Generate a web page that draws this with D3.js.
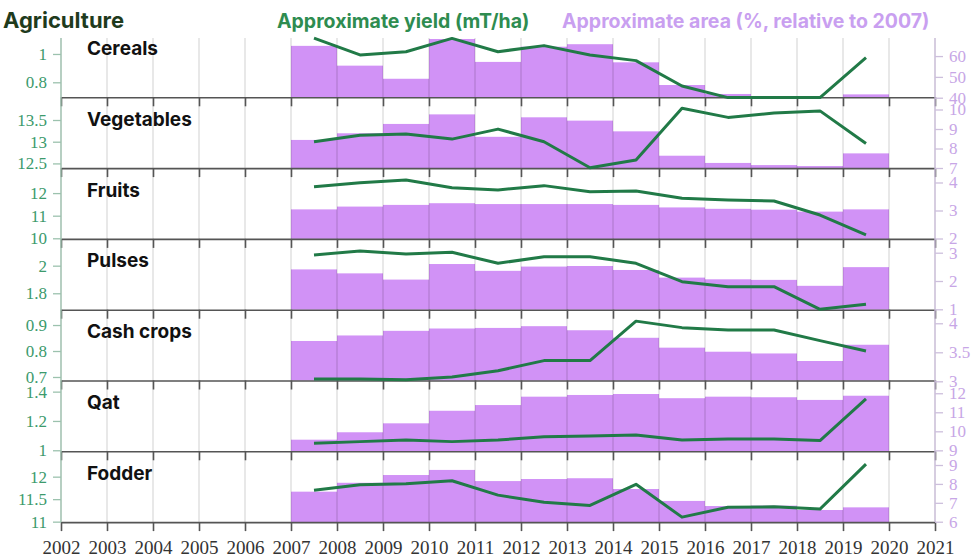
<!DOCTYPE html>
<html>
<head>
<meta charset="utf-8">
<script src="https://cdn.jsdelivr.net/npm/d3@7"></script>
<style>
  body { margin: 0; background: #fff; }
  svg { display: block; }
  .num { font-family: "Liberation Serif", "DejaVu Serif", serif; font-variant-numeric: oldstyle-nums; }
  .sans { font-family: Inter, "Noto Sans", sans-serif; font-weight: 700; }
</style>
</head>
<body>
<svg id="chart" width="974" height="557"></svg>
<script>
// Crop rows, top to bottom
const categories = ["Cereals", "Vegetables", "Fruits", "Pulses", "Cash crops", "Qat", "Fodder"];
const years = [2007, 2008, 2009, 2010, 2011, 2012, 2013, 2014, 2015, 2016, 2017, 2018, 2019];
const axisYears = d3.range(2002, 2022);

// Approximate yield (mT/ha), plotted mid-year
const cerealsYield    = [1.112, 0.993, 1.016, 1.110, 1.016, 1.059, 0.993, 0.953, 0.774, 0.692, 0.692, 0.692, 0.974];
const vegetablesYield = [13.00, 13.15, 13.18, 13.06, 13.29, 13.00, 12.40, 12.58, 13.77, 13.56, 13.66, 13.71, 12.96];
const fruitsYield     = [12.28, 12.46, 12.58, 12.24, 12.14, 12.33, 12.06, 12.09, 11.77, 11.69, 11.65, 11.03, 10.15];
const pulsesYield     = [2.078, 2.107, 2.085, 2.097, 2.017, 2.065, 2.065, 2.017, 1.884, 1.848, 1.848, 1.684, 1.720];
const cashYield       = [0.692, 0.692, 0.689, 0.700, 0.724, 0.763, 0.763, 0.915, 0.890, 0.881, 0.881, 0.840, 0.800];
const qatYield        = [1.048, 1.059, 1.070, 1.059, 1.070, 1.093, 1.098, 1.104, 1.070, 1.077, 1.077, 1.066, 1.350];
const fodderYield     = [11.70, 11.82, 11.84, 11.91, 11.59, 11.43, 11.36, 11.83, 11.10, 11.32, 11.33, 11.28, 12.28];

// Approximate area (%, relative to 2007), one bar per year
const cerealsArea    = [64.9, 55.4, 49.1, 68.2, 57.2, 64.5, 65.7, 57.0, 46.1, 41.8, 40.4, 40.2, 41.6];
const vegetablesArea = [8.44, 8.78, 9.26, 9.75, 8.60, 9.60, 9.43, 8.88, 7.63, 7.26, 7.15, 7.10, 7.75];
const fruitsArea     = [3.04, 3.14, 3.20, 3.26, 3.23, 3.23, 3.23, 3.20, 3.11, 3.06, 3.03, 2.96, 3.04];
const pulsesArea     = [2.41, 2.27, 2.05, 2.60, 2.36, 2.51, 2.53, 2.39, 2.12, 2.06, 2.04, 1.83, 2.49];
const cashArea       = [3.695, 3.79, 3.87, 3.91, 3.92, 3.95, 3.88, 3.75, 3.58, 3.51, 3.48, 3.35, 3.63];
const qatArea        = [9.56, 9.95, 10.42, 11.08, 11.38, 11.82, 11.91, 11.96, 11.74, 11.82, 11.79, 11.65, 11.87];
const fodderArea     = [7.59, 8.06, 8.47, 8.74, 8.15, 8.26, 8.30, 7.73, 7.10, 6.83, 6.85, 6.62, 6.76];

// Axis domains and ticks per row
const yieldDomains = [[0.694, 1.194], [12.392, 14.023], [9.973, 13.106], [1.681, 2.194], [0.6865, 0.959], [0.993, 1.476], [10.99, 12.564]];
const areaDomains  = [[40.2, 74.2], [6.995, 10.626], [1.986, 4.514], [0.986, 3.488], [3.014, 4.234], [8.95, 12.67], [5.98, 9.725]];
const yieldTicks = [[0.8, 1], [12.5, 13, 13.5], [10, 11, 12], [1.8, 2], [0.7, 0.8, 0.9], [1, 1.2, 1.4], [11, 11.5, 12]];
const areaTicks  = [[40, 50, 60], [7, 8, 9, 10], [2, 3, 4], [1, 2, 3], [3, 3.5, 4], [9, 10, 11, 12], [6, 7, 8, 9]];

const yieldSeries = [cerealsYield, vegetablesYield, fruitsYield, pulsesYield, cashYield, qatYield, fodderYield];
const areaSeries  = [cerealsArea, vegetablesArea, fruitsArea, pulsesArea, cashArea, qatArea, fodderArea];

const colors = {
  bar: "#d192f6",
  line: "#217a47",
  yieldText: "#2e8c50",
  yieldAxis: "#3c9a6c",
  areaText: "#c99ff0",
  areaAxis: "#c7a6e6",
  title: "#1f3b1d",
  rule: "#555"
};

const svg = d3.select("#chart");
const left = 61, right = 935;
const gridTop = 38;
const rowTop = 26.5, rowH = 70.8;
const x = d3.scaleLinear().domain([2002, 2021]).range([left, right]);
const chartBottom = rowTop + rowH * categories.length;
const serif = "Liberation Serif, DejaVu Serif, serif";

// Header
svg.append("text").attr("class", "sans").attr("x", 3).attr("y", 27.5)
  .attr("font-size", 22).attr("fill", colors.title).text("Agriculture");
svg.append("text").attr("class", "sans").attr("x", 277).attr("y", 27.5)
  .attr("font-size", 19.5).attr("fill", colors.yieldText).text("Approximate yield (mT/ha)");
svg.append("text").attr("class", "sans").attr("x", 562).attr("y", 27.5)
  .attr("font-size", 19.5).attr("fill", colors.areaText).text("Approximate area (%, relative to 2007)");

const barsLayer = svg.append("g");
const gridLayer = svg.append("g");
const ruleLayer = svg.append("g");
const lineLayer = svg.append("g");
const labelLayer = svg.append("g");

categories.forEach((name, i) => {
  const top = rowTop + i * rowH;
  const bottom = top + rowH;
  const yYield = d3.scaleLinear().domain(yieldDomains[i]).range([bottom, top]);
  const yArea = d3.scaleLinear().domain(areaDomains[i]).range([bottom, top]);

  // area bars, one per calendar year
  barsLayer.selectAll(null).data(years.map((yr, k) => ({ yr, v: areaSeries[i][k] })))
    .join("rect")
    .attr("x", d => x(d.yr))
    .attr("width", d => x(d.yr + 1) - x(d.yr))
    .attr("y", d => yArea(d.v))
    .attr("height", d => bottom - yArea(d.v))
    .attr("fill", colors.bar);

  // yield line at mid-year
  const line = d3.line().x(d => x(d.yr + 0.5)).y(d => yYield(d.v));
  lineLayer.append("path")
    .datum(years.map((yr, k) => ({ yr, v: yieldSeries[i][k] })))
    .attr("d", line)
    .attr("fill", "none")
    .attr("stroke", colors.line)
    .attr("stroke-width", 3)
    .attr("stroke-linejoin", "round");

  // left axis (yield)
  const la = labelLayer.append("g").attr("transform", `translate(${left},0)`)
    .call(d3.axisLeft(yYield).tickValues(yieldTicks[i]).tickSize(8).tickPadding(6).tickFormat(d3.format("")));
  la.attr("font-family", serif);
  la.select(".domain").remove();
  la.selectAll("line").attr("stroke", "#9cc2ae").attr("stroke-width", 1.3);
  la.selectAll("text").attr("class", "num").attr("fill", colors.yieldAxis).attr("font-size", 17);

  // right axis (area)
  const ra = labelLayer.append("g").attr("transform", `translate(${right},0)`)
    .call(d3.axisRight(yArea).tickValues(areaTicks[i]).tickSize(8).tickPadding(6).tickFormat(d3.format("")));
  ra.attr("font-family", serif);
  ra.select(".domain").remove();
  ra.selectAll("line").attr("stroke", "#cdbfdc").attr("stroke-width", 1.3);
  ra.selectAll("text").attr("class", "num").attr("fill", colors.areaAxis).attr("font-size", 17);

  // bottom rule with year ticks
  const xa = ruleLayer.append("g").attr("transform", `translate(0,${bottom})`)
    .call(d3.axisBottom(x).tickValues(axisYears).tickSize(9).tickSizeOuter(0)
      .tickFormat(i === categories.length - 1 ? d3.format("d") : () => ""));
  xa.attr("font-family", serif);
  xa.select(".domain").attr("stroke", colors.rule).attr("stroke-width", 1.6);
  xa.selectAll(".tick line").attr("stroke", colors.rule).attr("stroke-width", 1.6);
  xa.selectAll("text").attr("class", "num").attr("fill", "#333").attr("font-size", 19)
    .attr("dy", "1.05em");

  // row label
  labelLayer.append("text").attr("class", "sans")
    .attr("x", 87).attr("y", top + 28.5)
    .attr("font-size", 19).attr("fill", "#111").text(name);
});

// vertical year gridlines
gridLayer.selectAll("line").data(axisYears).join("line")
  .attr("x1", d => x(d)).attr("x2", d => x(d))
  .attr("y1", gridTop).attr("y2", chartBottom)
  .attr("stroke", "#000").attr("stroke-opacity", 0.12).attr("stroke-width", 1.5);

// side axis lines
ruleLayer.append("line").attr("x1", left).attr("x2", left).attr("y1", gridTop).attr("y2", chartBottom)
  .attr("stroke", "#9cc2ae").attr("stroke-width", 1.3);
ruleLayer.append("line").attr("x1", right).attr("x2", right).attr("y1", gridTop).attr("y2", chartBottom)
  .attr("stroke", "#cdbfdc").attr("stroke-width", 1.3);
</script>
</body>
</html>
